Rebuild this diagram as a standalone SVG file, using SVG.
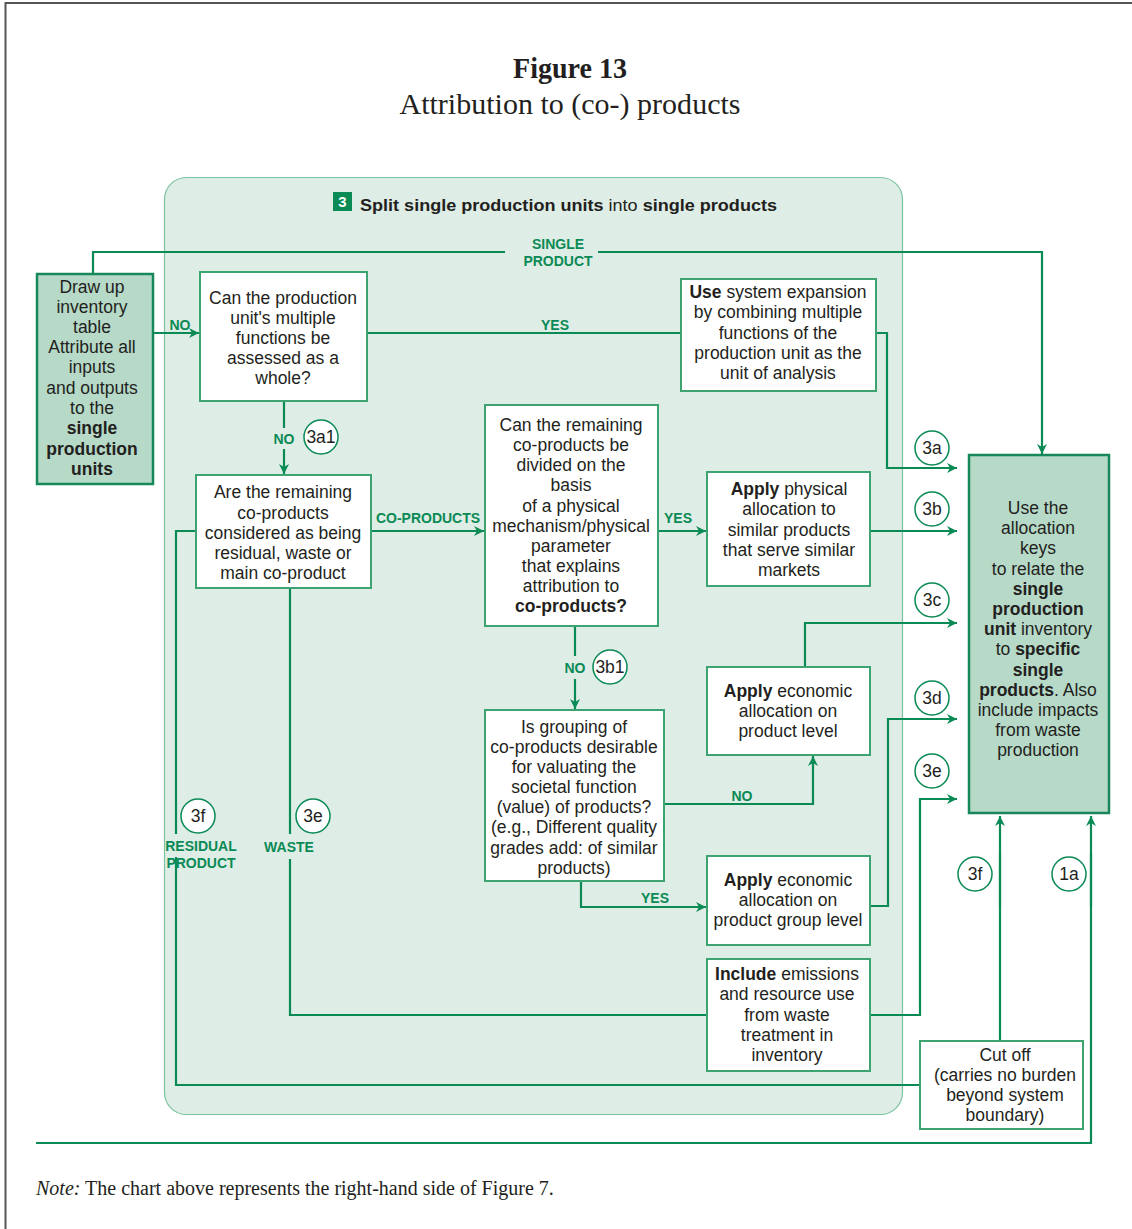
<svg xmlns="http://www.w3.org/2000/svg" width="1132" height="1229" viewBox="0 0 1132 1229">
  <style>
    .frame { fill: none; stroke: #555; stroke-width: 2; }
    .title { font-family: "Liberation Serif", "DejaVu Serif", serif; fill: #231f20; }
    .panel { fill: #deede5; stroke: #7cc4a0; stroke-width: 1.2; }
    .box { fill: #ffffff; stroke: #3da370; stroke-width: 2; }
    .keybox { fill: #b6d9c8; stroke: #17885a; stroke-width: 2.5; }
    .t { font-family: "Liberation Sans", "Noto Sans", sans-serif; font-size: 17.5px; fill: #231f20; text-anchor: middle; }
    .b { font-weight: bold; }
    .lbl { font-family: "Liberation Sans", "Noto Sans", sans-serif; font-size: 14px; font-weight: bold; fill: #0a8a55; text-anchor: middle; }
    .conn { fill: none; stroke: #0a8a55; stroke-width: 2.2; }
    .arr { marker-end: url(#ah); }
    .tag circle { fill: #ffffff; stroke: #0a8a55; stroke-width: 1.5; }
    .tag text { font-family: "Liberation Sans", "Noto Sans", sans-serif; font-size: 17.5px; fill: #231f20; text-anchor: middle; }
  </style>
  <defs>
    <marker id="ah" markerUnits="userSpaceOnUse" markerWidth="12" markerHeight="12" refX="10" refY="6" orient="auto">
      <path d="M0,1 L10,6 L0,11 L3,6 z" fill="#0a8a55"/>
    </marker>
  </defs>

  <rect width="1132" height="1229" fill="#ffffff"/>
  <!-- page frame (top and left edges) -->
  <path class="frame" d="M5.5,1229 V3 H1132"/>

  <!-- heading -->
  <text class="title" x="570" y="78" font-size="29" font-weight="bold" text-anchor="middle" textLength="114" lengthAdjust="spacingAndGlyphs">Figure 13</text>
  <text class="title" x="570" y="114" font-size="29" text-anchor="middle" textLength="341" lengthAdjust="spacingAndGlyphs">Attribution to (co-) products</text>

  <!-- step 3 panel -->
  <g id="panel">
    <rect class="panel" x="164.5" y="177.5" width="738" height="937" rx="22"/>
    <rect x="333" y="192" width="19" height="19" fill="#0a8a55"/>
    <text x="342.5" y="207" font-family="Liberation Sans, sans-serif" font-size="15" font-weight="bold" fill="#ffffff" text-anchor="middle">3</text>
    <text x="360" y="211" font-family="Liberation Sans, Noto Sans, sans-serif" font-size="17" fill="#231f20" textLength="417" lengthAdjust="spacingAndGlyphs"><tspan font-weight="bold">Split </tspan><tspan font-weight="bold">single production units</tspan> into <tspan font-weight="bold">single products</tspan></text>
  </g>

  <!-- connectors -->
  <g id="connectors">
    <path class="conn" d="M93,274 V252 H505"/>
    <path class="conn arr" d="M598,252 H1042 V454"/>
    <path class="conn arr" d="M153,333 H199"/>
    <path class="conn" d="M367,333 H681"/>
    <path class="conn arr" d="M876,333 H887 V468 H957"/>
    <path class="conn" d="M284,401 V428"/>
    <path class="conn arr" d="M284,449 V474"/>
    <path class="conn arr" d="M371,531 H484"/>
    <path class="conn arr" d="M658,531 H706"/>
    <path class="conn arr" d="M870,531 H957"/>
    <path class="conn" d="M575,626 V656"/>
    <path class="conn arr" d="M575,679 V709"/>
    <path class="conn arr" d="M664,804 H813 V756"/>
    <path class="conn arr" d="M581,881 V907 H706"/>
    <path class="conn arr" d="M805,667 V623 H957"/>
    <path class="conn arr" d="M870,906 H888 V719 H957"/>
    <path class="conn arr" d="M870,1015 H920 V799 H957"/>
    <path class="conn" d="M290,588 V834"/>
    <path class="conn" d="M290,859 V1015 H707"/>
    <path class="conn" d="M196,531 H176 V834"/>
    <path class="conn" d="M176,857 V1085 H920"/>
    <path class="conn arr" d="M1000,1041 V816"/>
    <path class="conn arr" d="M36,1143 H1091 V816"/>
    <path class="conn" d="M1000,853 V907 M1091,853 V907" stroke-width="3.2"/>

    <text class="lbl" x="558" y="249">SINGLE</text>
    <text class="lbl" x="558" y="266">PRODUCT</text>
    <text class="lbl" x="180" y="330">NO</text>
    <text class="lbl" x="555" y="330">YES</text>
    <text class="lbl" x="284" y="444">NO</text>
    <text class="lbl" x="428" y="523">CO-PRODUCTS</text>
    <text class="lbl" x="678" y="523">YES</text>
    <text class="lbl" x="575" y="673">NO</text>
    <text class="lbl" x="742" y="801">NO</text>
    <text class="lbl" x="655" y="903">YES</text>
    <text class="lbl" x="289" y="852">WASTE</text>
    <text class="lbl" x="201" y="851">RESIDUAL</text>
    <text class="lbl" x="201" y="868">PRODUCT</text>
  </g>

  <!-- step tags -->
  <g id="tags">
    <g class="tag"><circle cx="321" cy="437" r="17"/><text x="321" y="443">3a1</text></g>
    <g class="tag"><circle cx="610" cy="667" r="17"/><text x="610" y="673">3b1</text></g>
    <g class="tag"><circle cx="932" cy="448" r="17"/><text x="932" y="454">3a</text></g>
    <g class="tag"><circle cx="932" cy="509" r="17"/><text x="932" y="515">3b</text></g>
    <g class="tag"><circle cx="932" cy="600" r="17"/><text x="932" y="606">3c</text></g>
    <g class="tag"><circle cx="932" cy="698" r="17"/><text x="932" y="704">3d</text></g>
    <g class="tag"><circle cx="932" cy="771" r="17"/><text x="932" y="777">3e</text></g>
    <g class="tag"><circle cx="198" cy="816" r="17"/><text x="198" y="822">3f</text></g>
    <g class="tag"><circle cx="313" cy="816" r="17"/><text x="313" y="822">3e</text></g>
    <g class="tag"><circle cx="975" cy="874" r="17"/><text x="975" y="880">3f</text></g>
    <g class="tag"><circle cx="1069" cy="874" r="17"/><text x="1069" y="880">1a</text></g>
  </g>

  <!-- nodes -->
  <g id="inventory">
    <rect class="keybox" x="37" y="274" width="116" height="210"/>
    <text class="t"><tspan x="92" y="293">Draw up</tspan><tspan x="92" y="313">inventory</tspan><tspan x="92" y="333">table</tspan><tspan x="92" y="353">Attribute all</tspan><tspan x="92" y="373">inputs</tspan><tspan x="92" y="394">and outputs</tspan><tspan x="92" y="414">to the</tspan><tspan x="92" y="434" class="b">single</tspan><tspan x="92" y="455" class="b">production</tspan><tspan x="92" y="475" class="b">units</tspan></text>
  </g>

  <g id="q-whole">
    <rect class="box" x="200" y="272" width="167" height="129"/>
    <text class="t"><tspan x="283" y="304">Can the production</tspan><tspan x="283" y="324">unit's multiple</tspan><tspan x="283" y="344">functions be</tspan><tspan x="283" y="364">assessed as a</tspan><tspan x="283" y="384">whole?</tspan></text>
  </g>

  <g id="system-expansion">
    <rect class="box" x="681" y="279" width="195" height="112"/>
    <text class="t"><tspan x="778" y="298"><tspan class="b">Use</tspan> system expansion</tspan><tspan x="778" y="318">by combining multiple</tspan><tspan x="778" y="339">functions of the</tspan><tspan x="778" y="359">production unit as the</tspan><tspan x="778" y="379">unit of analysis</tspan></text>
  </g>

  <g id="q-residual">
    <rect class="box" x="196" y="475" width="175" height="113"/>
    <text class="t"><tspan x="283" y="498">Are the remaining</tspan><tspan x="283" y="519">co-products</tspan><tspan x="283" y="539">considered as being</tspan><tspan x="283" y="559">residual, waste or</tspan><tspan x="283" y="579">main co-product</tspan></text>
  </g>

  <g id="q-physical">
    <rect class="box" x="485" y="405" width="173" height="221"/>
    <text class="t"><tspan x="571" y="431">Can the remaining</tspan><tspan x="571" y="451">co-products be</tspan><tspan x="571" y="471">divided on the</tspan><tspan x="571" y="491">basis</tspan><tspan x="571" y="512">of a physical</tspan><tspan x="571" y="532">mechanism/physical</tspan><tspan x="571" y="552">parameter</tspan><tspan x="571" y="572">that explains</tspan><tspan x="571" y="592">attribution to</tspan><tspan x="571" y="612" class="b">co-products?</tspan></text>
  </g>

  <g id="physical-allocation">
    <rect class="box" x="707" y="472" width="163" height="114"/>
    <text class="t"><tspan x="789" y="495"><tspan class="b">Apply</tspan> physical</tspan><tspan x="789" y="515">allocation to</tspan><tspan x="789" y="536">similar products</tspan><tspan x="789" y="556">that serve similar</tspan><tspan x="789" y="576">markets</tspan></text>
  </g>

  <g id="economic-product">
    <rect class="box" x="707" y="667" width="163" height="88"/>
    <text class="t"><tspan x="788" y="697"><tspan class="b">Apply</tspan> economic</tspan><tspan x="788" y="717">allocation on</tspan><tspan x="788" y="737">product level</tspan></text>
  </g>

  <g id="q-grouping">
    <rect class="box" x="485" y="710" width="179" height="171"/>
    <text class="t"><tspan x="574" y="733">Is grouping of</tspan><tspan x="574" y="753">co-products desirable</tspan><tspan x="574" y="773">for valuating the</tspan><tspan x="574" y="793">societal function</tspan><tspan x="574" y="813">(value) of products?</tspan><tspan x="574" y="833">(e.g., Different quality</tspan><tspan x="574" y="854">grades add: of similar</tspan><tspan x="574" y="874">products)</tspan></text>
  </g>

  <g id="economic-group">
    <rect class="box" x="707" y="856" width="163" height="89"/>
    <text class="t"><tspan x="788" y="886"><tspan class="b">Apply</tspan> economic</tspan><tspan x="788" y="906">allocation on</tspan><tspan x="788" y="926">product group level</tspan></text>
  </g>

  <g id="waste-treatment">
    <rect class="box" x="707" y="959" width="163" height="112"/>
    <text class="t"><tspan x="787" y="980"><tspan class="b">Include</tspan> emissions</tspan><tspan x="787" y="1000">and resource use</tspan><tspan x="787" y="1021">from waste</tspan><tspan x="787" y="1041">treatment in</tspan><tspan x="787" y="1061">inventory</tspan></text>
  </g>

  <g id="cut-off">
    <rect class="box" x="920" y="1041" width="163" height="88"/>
    <text class="t"><tspan x="1005" y="1061">Cut off</tspan><tspan x="1005" y="1081">(carries no burden</tspan><tspan x="1005" y="1101">beyond system</tspan><tspan x="1005" y="1121">boundary)</tspan></text>
  </g>

  <g id="allocation-keys">
    <rect class="keybox" x="969" y="455" width="140" height="358"/>
    <text class="t"><tspan x="1038" y="514">Use the</tspan><tspan x="1038" y="534">allocation</tspan><tspan x="1038" y="554">keys</tspan><tspan x="1038" y="575">to relate the</tspan><tspan x="1038" y="595" class="b">single</tspan><tspan x="1038" y="615" class="b">production</tspan><tspan x="1038" y="635"><tspan class="b">unit</tspan> inventory</tspan><tspan x="1038" y="655">to <tspan class="b">specific</tspan></tspan><tspan x="1038" y="676" class="b">single</tspan><tspan x="1038" y="696"><tspan class="b">products</tspan>. Also</tspan><tspan x="1038" y="716">include impacts</tspan><tspan x="1038" y="736">from waste</tspan><tspan x="1038" y="756">production</tspan></text>
  </g>

  <!-- footnote -->
  <text class="title" x="36" y="1195" font-size="20"><tspan font-style="italic">Note:</tspan> The chart above represents the right-hand side of Figure 7.</text>
</svg>
